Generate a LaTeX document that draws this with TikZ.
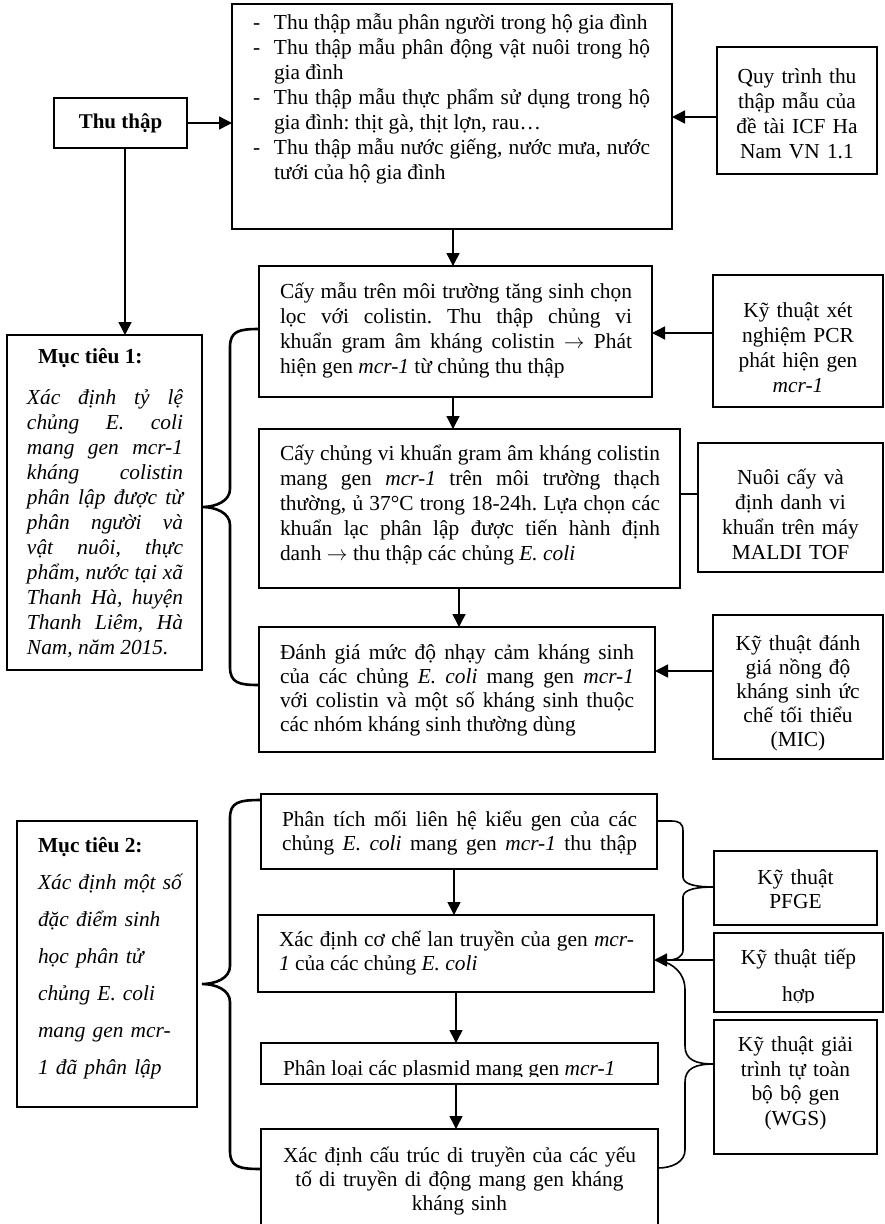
\documentclass[tikz,border=0pt]{standalone}
\usepackage{fontspec}
\setmainfont{Liberation Serif}
\usetikzlibrary{arrows.meta,fit}
\hyphenpenalty=10000
\exhyphenpenalty=10000
\tolerance=10000
\hbadness=10000
\frenchspacing
\newcommand\dashitem{\par\hangindent=21pt\hangafter=1\noindent\makebox[21pt][l]{-}}
\begin{document}
\frenchspacing
\begin{tikzpicture}[x=1pt,y=-1pt,
  box/.style={draw, line width=1.5pt, inner sep=0pt, outer sep=0pt},
  txt/.style={inner sep=0pt, outer sep=0pt},
  fa/.style={font=\fontsize{21.4}{25}\selectfont},
  fb/.style={font=\fontsize{21.4}{24}\selectfont},
  fi/.style={font=\fontsize{21.4}{25}\selectfont\itshape},
  jtxt/.style={txt, align=justify},
  ctxt/.style={txt, align=center, text width=168pt},
  arr/.style={line width=1.5pt, -{Triangle[length=13pt,width=13pt]}},
  conn/.style={line width=1.5pt},
  bigbrace/.style={line width=2.6pt},
  smallbrace/.style={line width=1.6pt}]
\useasboundingbox (0,0) rectangle (885,1224);
\fill[white] (0,0) rectangle (885,1224);
% ---------- boxes ----------
\node[box, fit={(232,4) (672,229)}] (top) {};
\node[box, fit={(54,98) (187,148)}] (thu) {};
\node[box, fit={(717,47) (877,174)}] (quy) {};
\node[box, fit={(7,335) (202,670)}] (mt1) {};
\node[box, fit={(259,266) (652,397)}] (b1) {};
\node[box, fit={(713,275) (883,407)}] (pcr) {};
\node[box, fit={(259,429) (680,588)}] (b2) {};
\node[box, fit={(698,443) (883,572)}] (maldi) {};
\node[box, fit={(259,627) (655,752)}] (b3) {};
\node[box, fit={(713,615) (883,759)}] (mic) {};
\node[box, fit={(17,821) (197,1107)}] (mt2) {};
\node[box, fit={(261,794) (657,869)}] (pa) {};
\node[box, fit={(258,915) (654,992)}] (pb) {};
\node[box, fit={(261,1043) (658,1084)}] (pc) {};
\node[box, fit={(261,1129) (658,1240)}] (pd) {};
\node[box, fit={(714,851) (877,925)}] (pfge) {};
\node[box, fit={(714,933) (883,1012)}] (tiep) {};
\node[box, fit={(714,1020) (877,1154)}] (wgs) {};
% ---------- texts ----------
\node[txt, font=\fontsize{21}{25}\selectfont] (thu-t) at (120.5,123) {\textbf{Thu thập}};
\node[jtxt, fa, text width=397pt] (top-t) at (451.5,94) {%
\dashitem Thu thập mẫu phân người trong hộ gia đình
\dashitem Thu thập mẫu phân động vật nuôi trong hộ\linebreak gia đình
\dashitem Thu thập mẫu thực phẩm sử dụng trong hộ\linebreak gia đình: thịt gà, thịt lợn, rau…
\dashitem Thu thập mẫu nước giếng, nước mưa, nước\linebreak tưới của hộ gia đình\par};
\node[ctxt, fa] (quy-t) at (797,114) {Quy trình thu\\thập mẫu của\\đề tài ICF Ha\\Nam VN 1.1};
\node[txt, fa, anchor=west] (mt1-h) at (38,358) {\textbf{Mục tiêu 1:}};
\node[jtxt, fi, text width=156pt] (mt1-t) at (105,524) {Xác định tỷ lệ\linebreak chủng E. coli\linebreak mang gen mcr-1\linebreak kháng colistin\linebreak phân lập được từ\linebreak phân người và\linebreak vật nuôi, thực\linebreak phẩm, nước tại xã\linebreak Thanh Hà, huyện\linebreak Thanh Liêm, Hà\linebreak Nam, năm 2015.\par};
\node[jtxt, fa, text width=352pt] (b1-t) at (456,330.5) {Cấy mẫu trên môi trường tăng sinh chọn\linebreak lọc với colistin. Thu thập chủng vi\linebreak khuẩn gram âm kháng colistin $\rightarrow$ Phát\linebreak hiện gen \textit{mcr-1} từ chủng thu thập\par};
\node[ctxt, fa] (pcr-t) at (798,347.5) {Kỹ thuật xét\\nghiệm PCR\\phát hiện gen\\\textit{mcr-1}};
\node[jtxt, fa, text width=380pt] (b2-t) at (470,505) {Cấy chủng vi khuẩn gram âm kháng colistin\linebreak mang gen \textit{mcr-1} trên môi trường thạch\linebreak thường, ủ 37°C trong 18-24h. Lựa chọn các\linebreak khuẩn lạc phân lập được tiến hành định\linebreak danh $\rightarrow$ thu thập các chủng \textit{E. coli}\par};
\node[ctxt, fa] (maldi-t) at (790.5,514) {Nuôi cấy và\\định danh vi\\khuẩn trên máy\\MALDI TOF};
\node[jtxt, fb, text width=354pt] (b3-t) at (457,690.5) {Đánh giá mức độ nhạy cảm kháng sinh\linebreak của các chủng \textit{E. coli} mang gen \textit{mcr-1}\linebreak với colistin và một số kháng sinh thuộc\linebreak các nhóm kháng sinh thường dùng\par};
\node[ctxt, fb] (mic-t) at (798,693.5) {Kỹ thuật đánh\\giá nồng độ\\kháng sinh ức\\chế tối thiểu\\(MIC)};
\node[txt, fa, anchor=west] (mt2-h) at (38,847) {\textbf{Mục tiêu 2:}};
\node[txt, align=left, text width=160pt, font=\fontsize{21.4}{37}\selectfont\itshape, anchor=west] (mt2-t) at (38,976.5) {Xác định một số\\đặc điểm sinh\\học phân tử\\chủng E. coli\\mang gen mcr-\\1 đã phân lập};
\node[jtxt, fb, text width=355pt] (pa-t) at (459.5,833) {\parfillskip=0pt Phân tích mối liên hệ kiểu gen của các\linebreak chủng \textit{E. coli} mang gen \textit{mcr-1} thu thập\par};
\node[jtxt, fb, text width=355pt] (pb-t) at (456.5,953.5) {Xác định cơ chế lan truyền của gen \textit{mcr-}\linebreak\textit{1} của các chủng \textit{E. coli}\par};
\begin{scope}
\clip (261,1043) rectangle (658,1076);
\node[txt, fb, anchor=base west] (pc-t) at (283,1075) {Phân loại các plasmid mang gen \textit{mcr-1}};
\end{scope}
\node[txt, fb, align=center, text width=390pt] (pd-t) at (459.5,1181) {Xác định cấu trúc di truyền của các yếu\\tố di truyền di động mang gen kháng\\kháng sinh};
\node[ctxt, fb] (pfge-t) at (795.5,889) {Kỹ thuật\\PFGE};
\begin{scope}
\clip (714,933) rectangle (883,1002);
\node[ctxt, font=\fontsize{21.4}{37}\selectfont] (tiep-t) at (798.5,977.5) {Kỹ thuật tiếp\\hợp};
\end{scope}
\node[ctxt, font=\fontsize{21.4}{24.5}\selectfont] (wgs-t) at (795.5,1083.5) {Kỹ thuật giải\\trình tự toàn\\bộ bộ gen\\(WGS)};
% ---------- helper coordinates ----------
\coordinate (yq) at (0,117);
\coordinate (x0) at (125,0);
\coordinate (x1) at (453,0);
\coordinate (x2) at (459,0);
\coordinate (y2) at (0,333);
\coordinate (y3) at (0,494);
\coordinate (y4) at (0,671);
\coordinate (x3) at (454,0);
\coordinate (x4) at (456,0);
\coordinate (y5) at (0,960);
\coordinate (yA) at (0,329);
\coordinate (yM) at (0,507);
\coordinate (yB) at (0,685);
\coordinate (yC) at (0,800);
\coordinate (m2tip) at (202,984);
\coordinate (yD) at (0,1169);
\coordinate (yE) at (0,821);
\coordinate (yF) at (0,887);
\coordinate (yG) at (0,1064);
\coordinate (yH) at (0,1168);
% ---------- connectors ----------
\draw[arr] (thu.east) -- (thu.east -| top.west);
\draw[arr] (quy.west |- yq) -- (top.east |- yq);
\draw[arr] (top.south -| x1) -- (b1.north -| x1);
\draw[arr] (thu.south -| x0) -- (mt1.north -| x0);
\draw[arr] (pcr.west |- y2) -- (b1.east |- y2);
\draw[arr] (b1.south -| x1) -- (b2.north -| x1);
\draw[conn] (b2.east |- y3) -- (maldi.west |- y3);
\draw[arr] (b2.south -| x2) -- (b3.north -| x2);
\draw[arr] (mic.west |- y4) -- (b3.east |- y4);
\draw[arr] (pa.south -| x3) -- (pb.north -| x3);
\draw[arr] (pb.south -| x4) -- (pc.north -| x4);
\draw[arr] (pc.south -| x4) -- (pd.north -| x4);
\draw[arr] (tiep.west |- y5) -- (pb.east |- y5);
% ---------- braces ----------
\draw[bigbrace] (b1.west |- yA) .. controls +(-20,0) and +(0,-16) .. (230,347) -- (230,489)
  .. controls +(0,12) and +(14,0) .. (mt1.east |- yM)
  .. controls +(14,0) and +(0,-12) .. (230,525) -- (230,667)
  .. controls +(0,16) and +(-20,0) .. (b3.west |- yB);
\draw[bigbrace] (pa.west |- yC) .. controls +(-22,0) and +(0,-16) .. (230,818) -- (230,966)
  .. controls +(0,12) and +(14,0) .. (m2tip)
  .. controls +(14,0) and +(0,-12) .. (230,1002) -- (230,1151)
  .. controls +(0,16) and +(-22,0) .. (pd.west |- yD);
\draw[smallbrace] (pa.east |- yE) -- (671,821) .. controls +(8,0) and +(0,-8) .. (683,831) -- (683,877)
  .. controls +(0,8) and +(-16,0) .. (pfge.west |- yF)
  .. controls +(-16,0) and +(0,-8) .. (683,897) -- (683,950)
  .. controls +(0,7) and +(8,0) .. (668,960);
\draw[smallbrace] (wgs.west |- yG) .. controls +(-18,0) and +(0,14) .. (685,1046) -- (685,990)
  .. controls +(0,-18) and +(10,3) .. (662,961);
\draw[smallbrace] (wgs.west |- yG) .. controls +(-18,0) and +(0,-14) .. (685,1082) -- (685,1150)
  .. controls +(0,12) and +(14,0) .. (pd.east |- yH);
\end{tikzpicture}
\end{document}
